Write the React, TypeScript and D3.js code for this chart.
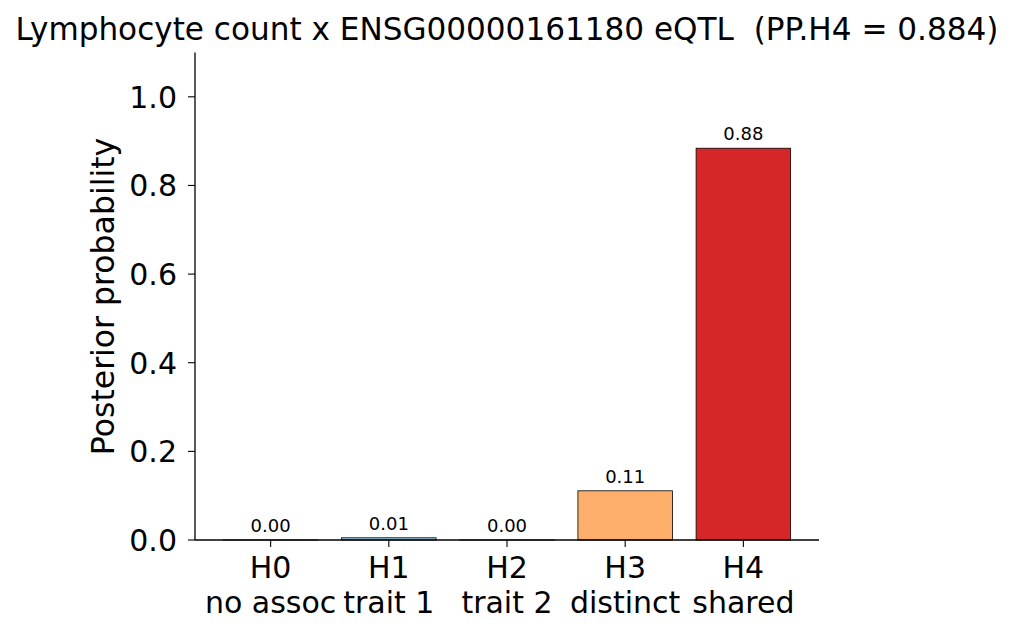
import React from "react";
import * as d3 from "d3";

const categories = ["H0", "H1", "H2", "H3", "H4"];
const subLabels = ["no assoc", "trait 1", "trait 2", "distinct", "shared"];
const values = [0.0001, 0.005, 0.0001, 0.111, 0.884];
const valueLabels = ["0.00", "0.01", "0.00", "0.11", "0.88"];
const colors = ["#bdbdbd", "#9ecae1", "#c6dbef", "#fdae6b", "#d62728"];
const yTicks = [0.0, 0.2, 0.4, 0.6, 0.8, 1.0];
const title = "Lymphocyte count x ENSG00000161180 eQTL  (PP.H4 = 0.884)";

const W = 1014;
const H = 638;
const left = 195;
const right = 819;
const top = 52.5;
const bottom = 540;

export default function App() {
  const x = d3.scaleLinear().domain([-0.64, 4.64]).range([left, right]);
  const y = d3.scaleLinear().domain([0, 1.1]).range([bottom, top]);
  const barW = x(0.8) - x(0);
  const font = "'DejaVu Sans', sans-serif";
  return (
    <svg
      width={W}
      height={H}
      style={{ position: "absolute", left: 0, top: 0, background: "#fff" }}
      fontFamily={font}
    >
      <text
        x={507}
        y={40}
        textAnchor="middle"
        fontSize={31.1}
        fill="#000"
        style={{ whiteSpace: "pre" }}
      >
        {title}
      </text>
      {categories.map((c, i) => (
        <g key={c}>
          <rect
            x={x(i) - barW / 2}
            y={y(values[i])}
            width={barW}
            height={bottom - y(values[i])}
            fill={colors[i]}
            stroke="#000"
            strokeWidth={0.8}
          />
          <text
            x={x(i)}
            y={y(values[i]) - 8}
            textAnchor="middle"
            fontSize={18}
            fill="#000"
          >
            {valueLabels[i]}
          </text>
          <line x1={x(i)} x2={x(i)} y1={bottom} y2={bottom + 7} stroke="#000" strokeWidth={1.1} />
          <text x={x(i)} y={578} textAnchor="middle" fontSize={30} fill="#000">
            {c}
          </text>
          <text x={x(i)} y={613} textAnchor="middle" fontSize={30} fill="#000">
            {subLabels[i]}
          </text>
        </g>
      ))}
      {yTicks.map((t) => (
        <g key={t}>
          <line x1={left - 7} x2={left} y1={y(t)} y2={y(t)} stroke="#000" strokeWidth={1.1} />
          <text x={left - 18} y={y(t) + 11} textAnchor="end" fontSize={30} fill="#000">
            {t.toFixed(1)}
          </text>
        </g>
      ))}
      <line x1={left} x2={left} y1={top} y2={bottom} stroke="#000" strokeWidth={1.3} />
      <line x1={left} x2={right} y1={bottom} y2={bottom} stroke="#000" strokeWidth={1.3} />
      <text
        transform={`translate(114, ${(140 + 453) / 2}) rotate(-90)`}
        textAnchor="middle"
        fontSize={31.5}
        fill="#000"
      >
        Posterior probability
      </text>
    </svg>
  );
}
